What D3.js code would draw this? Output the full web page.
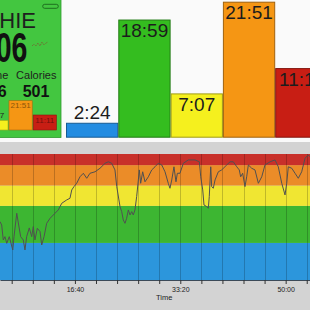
<!DOCTYPE html>
<html><head><meta charset="utf-8">
<script src="https://cdn.jsdelivr.net/npm/d3@7"></script>
<style>html,body{margin:0;padding:0;background:#fafafa;overflow:hidden}svg{display:block;font-family:"Liberation Sans",Arial,sans-serif}</style>
</head><body>
<svg id="c" width="310" height="310"></svg>
<script>
// ---- data ----
const zones = ["Zone 1","Zone 2","Zone 3","Zone 4","Zone 5"];
const zoneLabels = ["2:24","18:59","7:07","21:51","11:11"];
const zoneSeconds = [144,1139,427,1311,671];
const zoneColors = ["#238ce1","#34bd1f","#f5f01e","#f59614","#c81e14"];
const bandColors = ["#2c96dc","#3db632","#f0e632","#eb8c28","#c8302a"];
const zoneBounds = [95,115,135,146,157,163];
const hrTime = [289,305,320,336,353,377,410,422,448,463,485,510,526,542,567,590,605,621,643,669,685,707,732,764,795,842,875,922,953,970,991,1017,1048,1080,1112,1143,1191,1238,1286,1317,1349,1380,1397,1428,1444,1459,1475,1491,1507,1523,1539,1554,1570,1586,1602,1611,1624,1643,1665,1697,1729,1760,1791,1824,1855,1886,1902,1919,1940,1959,1972,1997,2029,2076,2140,2181,2194,2213,2225,2251,2266,2275,2289,2298,2313,2330,2361,2393,2441,2472,2503,2536,2560,2573,2592,2614,2630,2646,2678,2709,2741,2773,2804,2852,2899,2930,2963,2994,3010,3025,3058,3089,3120,3152,3184,3215,3231];
const hrBpm = [126.5,124.7,116.6,118.4,114.8,118.4,111.2,118.4,131,125.8,118.4,116.6,111.2,118.4,123.1,118.4,123.8,116.6,122.9,121.1,113.9,118.4,125.6,128.3,130.1,132.8,136.4,138.2,139.1,143.6,145.4,147.2,150.7,152.6,149.9,152.6,153.4,155.3,158,158.8,158,154.4,145.4,134.6,131.9,127.4,125.6,128.3,132.8,130.1,131.9,130.1,132.8,140,149,154.4,147.2,153.4,148,150.7,154.4,156.1,158,157.1,153.4,147.2,144.5,149,156.1,148,152.6,152.6,158,159.8,159.8,158.8,150.7,143.6,135.5,134.6,133.7,140,156.1,145.4,144.5,149,153.4,154.4,157.1,158.8,158.8,156.1,154.4,150.7,152.6,145.4,150.7,157.1,155.3,154.4,147.2,150.7,157.1,158.8,159.8,156.1,147.2,140.9,147.2,156.1,155.3,152.6,149.9,153.4,160.7,162.5,161.5];
const gridTimes = [400,600,800,1000,1200,1400,1600,1800,2000,2200,2400,2600,2800,3000,3200];
const labelTimes = [1000,2000,3000];
const panelTexts = {name:"HIE", big:"06", head1:"Time", head2:"Calories", val1:"6", val2:"501"};

const svg = d3.select("#c");
const font = '"Liberation Sans",Arial,sans-serif';

// ---- top bar chart ----
const bx = d3.scaleBand().domain(zones).range([66, 66+5*52.3]).padding(0);
const by = d3.scaleLinear().domain([0,1311]).range([137.7,1.7]);
const topG = svg.append("g");
zones.forEach((z,i)=>{
  const y0 = by(zoneSeconds[i]);
  const h = by(0)-y0;
  topG.append("rect").attr("x",bx(z)+0.5).attr("y",y0+0.5).attr("width",bx.bandwidth()-1).attr("height",h-1)
    .attr("fill",zoneColors[i]).attr("stroke",d3.color(zoneColors[i]).darker(1.2)).attr("stroke-width",1);
  const inside = h>25;
  topG.append("text").attr("x",bx(z)+bx.bandwidth()/2).attr("y", inside? y0+17.5 : y0-4)
    .attr("text-anchor","middle").attr("font-size",19).attr("fill","#1c1c1c").text(zoneLabels[i]);
});

// ---- left panel ----
const p = svg.append("g");
p.append("rect").attr("x",-2).attr("y",-2).attr("width",63).attr("height",139.5).attr("fill","#43c640").attr("stroke","#2f9a2f").attr("stroke-width",0.8);
p.append("rect").attr("x",42.7).attr("y",4.3).attr("width",15.6).attr("height",4).attr("rx",2).attr("fill","none").attr("stroke","#1e6e1e").attr("stroke-width",1);
p.append("text").attr("x",36).attr("y",28.3).attr("text-anchor","end").attr("font-size",22).attr("fill","#1e1e1e").text(panelTexts.name);
p.append("text").attr("transform","translate(27.5,61.7) scale(0.68,1)").attr("text-anchor","end").attr("font-size",42).attr("font-weight","bold").attr("fill","#111").text(panelTexts.big);
p.append("path").attr("d","M32,46 l2,-2 l2,2 l2,-3 l2,3 l2,-4 l2,3 l2,-2 l2,-1").attr("fill","none").attr("stroke","#7a5a30").attr("stroke-width",0.8).attr("stroke-dasharray","1.2,0.8");
p.append("text").attr("x",8.3).attr("y",79).attr("text-anchor","end").attr("font-size",11).attr("fill","#1e1e1e").text(panelTexts.head1);
p.append("text").attr("x",36.3).attr("y",79).attr("text-anchor","middle").attr("font-size",11).attr("fill","#1e1e1e").text(panelTexts.head2);
p.append("text").attr("x",6.7).attr("y",96.7).attr("text-anchor","end").attr("font-size",16).attr("font-weight","bold").attr("fill","#111").text(panelTexts.val1);
p.append("text").attr("x",36).attr("y",96.7).attr("text-anchor","middle").attr("font-size",16).attr("font-weight","bold").attr("fill","#111").text(panelTexts.val2);
const mx = d3.scaleBand().domain(zones).range([-63.6,56.4]).paddingInner(0.04).paddingOuter(0);
const my = d3.scaleLinear().domain([0,1311]).range([130,100.7]);
zones.forEach((z,i)=>{
  const y0 = my(zoneSeconds[i]);
  const h = my(0)-y0;
  p.append("rect").attr("x",mx(z)).attr("y",y0).attr("width",mx.bandwidth()).attr("height",h)
    .attr("fill",zoneColors[i]).attr("stroke",d3.color(zoneColors[i]).darker(1)).attr("stroke-width",0.6);
  const inside = h>12;
  p.append("text").attr("x",mx(z)+mx.bandwidth()/2).attr("y", inside? y0+7.5 : y0-2)
    .attr("text-anchor","middle").attr("font-size",8).attr("fill", inside? d3.color(zoneColors[i]).darker(1.6) : "#222").text(zoneLabels[i]);
});

// ---- bottom HR chart ----
svg.append("rect").attr("x",0).attr("y",142).attr("width",310).attr("height",168).attr("fill","#d3d3d3");
const x = d3.scaleLinear().domain([289,3231]).range([0,310]);
const y = d3.scaleLinear().domain([95,163]).range([280,154]);
const g = svg.append("g");
bandColors.forEach((c,i)=>{
  g.append("rect").attr("x",0).attr("width",310).attr("y",y(zoneBounds[i+1])).attr("height",y(zoneBounds[i])-y(zoneBounds[i+1])).attr("fill",c);
});
g.selectAll("line.grid").data(gridTimes).join("line").attr("class","grid")
  .attr("x1",d=>Math.round(x(d))+0.5).attr("x2",d=>Math.round(x(d))+0.5).attr("y1",y(163)).attr("y2",y(95))
  .attr("stroke","rgba(0,0,0,0.2)").attr("stroke-width",1);
const line = d3.line().x((d,i)=>x(hrTime[i])).y(d=>y(d));
g.append("path").attr("d",line(hrBpm)).attr("fill","none").attr("stroke","#505050").attr("stroke-width",1).attr("stroke-linejoin","round");
const fmt = t => Math.floor(t/60)+":"+String(t%60).padStart(2,"0");
const ax = svg.append("g").attr("transform","translate(0,280)")
  .call(d3.axisBottom(x).tickValues(gridTimes).tickSize(4).tickSizeOuter(0).tickPadding(3.5)
    .tickFormat(t => labelTimes.includes(t) ? fmt(t) : ""));
ax.select(".domain").attr("stroke","#3c4a58").attr("stroke-width",1.2);
ax.selectAll(".tick line").attr("stroke","#333");
ax.selectAll("text").attr("font-size",7).attr("font-family",font).attr("fill","#222");
svg.append("text").attr("x",156).attr("y",300).attr("font-size",7.5).attr("fill","#222").text("Time");
</script>
</body></html>
